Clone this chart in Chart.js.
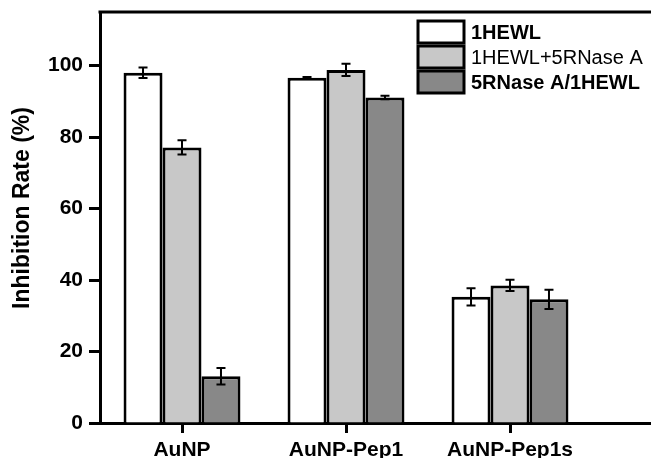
<!DOCTYPE html>
<html>
<head>
<meta charset="utf-8">
<script src="https://cdn.jsdelivr.net/npm/chart.js@4/dist/chart.umd.min.js"></script>
<style>
  html, body { margin: 0; padding: 0; background: #ffffff; overflow: hidden; }
  #wrap { width: 770px; height: 458px; }
</style>
</head>
<body>
<div id="wrap"><canvas id="c" width="770" height="458"></canvas></div>
<script>
// ---- data ----
const categories = ['AuNP', 'AuNP-Pep1', 'AuNP-Pep1s', ''];
const seriesNames = ['1HEWL', '1HEWL+5RNase A', '5RNase A/1HEWL'];
const hewl = [98.0, 96.6, 35.3, null];
const hewlErr = [1.5, 0.2, 2.4, null];
const hewlPlusRnase = [77.1, 98.8, 38.5, null];
const hewlPlusRnaseErr = [2.0, 1.7, 1.6, null];
const rnaseThenHewl = [13.1, 91.1, 34.6, null];
const rnaseThenHewlErr = [2.3, 0.5, 2.7, null];
const yTicks = [0, 20, 40, 60, 80, 100];
const yTitle = 'Inhibition Rate (%)';

const fills = ['#ffffff', '#c8c8c8', '#888888'];
const legendWeights = ['bold', 'normal', 'bold'];
const FONT = "'Liberation Sans', Arial, sans-serif";

const errorBars = {
  id: 'errorBars',
  afterDatasetsDraw(chart) {
    const ctx = chart.ctx;
    const y = chart.scales.y;
    const errs = [hewlErr, hewlPlusRnaseErr, rnaseThenHewlErr];
    ctx.save();
    ctx.strokeStyle = '#000';
    ctx.lineWidth = 2;
    chart.data.datasets.forEach((ds, i) => {
      const meta = chart.getDatasetMeta(i);
      ds.data.forEach((v, j) => {
        if (v === null || errs[i][j] === null) return;
        const x = meta.data[j].x;
        const yt = y.getPixelForValue(v + errs[i][j]);
        const yb = y.getPixelForValue(v - errs[i][j]);
        ctx.beginPath();
        ctx.moveTo(x, yt); ctx.lineTo(x, yb);
        ctx.moveTo(x - 4.5, yt); ctx.lineTo(x + 4.5, yt);
        ctx.moveTo(x - 4.5, yb); ctx.lineTo(x + 4.5, yb);
        ctx.stroke();
      });
    });
    ctx.restore();
  }
};

const frameAndLegend = {
  id: 'frameAndLegend',
  afterDraw(chart) {
    const ctx = chart.ctx;
    const a = chart.chartArea;
    ctx.save();
    // top frame line
    ctx.strokeStyle = '#000';
    ctx.lineWidth = 3;
    ctx.beginPath();
    ctx.moveTo(a.left - 1.5, a.top);
    ctx.lineTo(a.right, a.top);
    ctx.stroke();
    // y-axis title
    ctx.fillStyle = '#000';
    ctx.font = 'bold 23px ' + FONT;
    ctx.textAlign = 'center';
    ctx.textBaseline = 'middle';
    ctx.translate(23, 208);
    ctx.rotate(-Math.PI / 2);
    ctx.fillText(yTitle, 0, 0);
    ctx.restore();
    // legend
    ctx.save();
    const bx = 418, bw = 46, bh = 22, tops = [21, 46, 71];
    chart.data.datasets.forEach((ds, i) => {
      ctx.fillStyle = ds.backgroundColor;
      ctx.fillRect(bx, tops[i], bw, bh);
      ctx.strokeStyle = '#000';
      ctx.lineWidth = 3;
      ctx.strokeRect(bx, tops[i], bw, bh);
      ctx.fillStyle = '#000';
      ctx.font = legendWeights[i] + ' 20px ' + FONT;
      ctx.textAlign = 'left';
      ctx.textBaseline = 'middle';
      ctx.fillText(ds.label, 471, tops[i] + bh / 2 + 1);
    });
    ctx.restore();
  }
};

new Chart(document.getElementById('c'), {
  type: 'bar',
  data: {
    labels: categories,
    datasets: [
      { label: seriesNames[0], data: hewl, backgroundColor: fills[0] },
      { label: seriesNames[1], data: hewlPlusRnase, backgroundColor: fills[1] },
      { label: seriesNames[2], data: rnaseThenHewl, backgroundColor: fills[2] }
    ]
  },
  options: {
    responsive: false,
    animation: false,
    devicePixelRatio: 1,
    layout: { padding: { top: 12, right: 14, left: 0, bottom: 0 } },
    datasets: {
      bar: {
        borderColor: '#000',
        borderWidth: 3,
        categoryPercentage: 0.713,
        barPercentage: 1
      }
    },
    plugins: { legend: { display: false }, tooltip: { enabled: false } },
    scales: {
      x: {
        type: 'category',
        offset: true,
        grid: { display: true, drawOnChartArea: false, offset: false, tickLength: 10, tickWidth: 3, tickColor: '#000' },
        border: { display: true, color: '#000', width: 3 },
        ticks: { color: '#000', font: { family: FONT, size: 21, weight: 'bold' }, padding: 5, maxRotation: 0, autoSkip: false },
        afterFit(s) { s.height = 35; s.paddingLeft = 0; s.paddingRight = 0; }
      },
      y: {
        min: 0,
        max: 115,
        afterBuildTicks(s) { s.ticks = yTicks.map(v => ({ value: v })); },
        grid: { display: true, drawOnChartArea: false, tickLength: 11, tickWidth: 3, tickColor: '#000' },
        border: { display: true, color: '#000', width: 3 },
        ticks: { color: '#000', font: { family: FONT, size: 21, weight: 'bold' }, padding: 6 },
        afterFit(s) { s.width = 100; s.paddingTop = 0; s.paddingBottom = 0; }
      }
    }
  },
  plugins: [errorBars, frameAndLegend]
});
</script>
</body>
</html>
